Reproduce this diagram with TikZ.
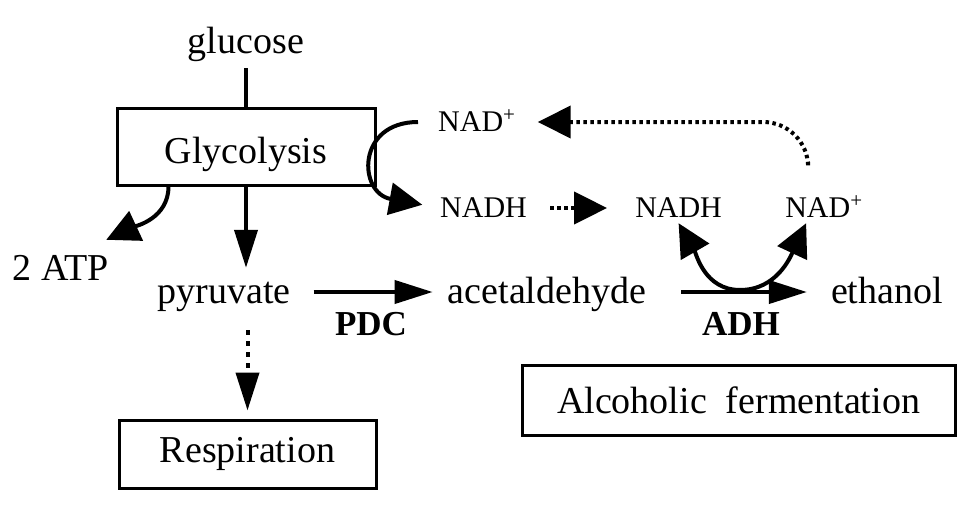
\documentclass[tikz,border=0pt]{standalone}
\usepackage{fontspec}
\setmainfont{Liberation Serif}
\usetikzlibrary{positioning, arrows.meta}
\tikzset{
  metab/.style = {
    inner sep=0pt,
    text height=28pt,
    text depth=6pt,
    font=\fontsize{38}{44}\selectfont
  },
  cofac/.style = {
    inner sep=0pt,
    text height=24pt,
    text depth=6pt,
    font=\fontsize{30}{36}\selectfont
  },
  enzyme/.style = {
    inner sep=0pt,
    font=\fontsize{35}{40}\selectfont\bfseries
  },
  pathway/.style = {
    draw,
    line width=3pt,
    inner sep=0pt,
    font=\fontsize{38}{44}\selectfont
  },
  arrow/.style = {
    -{Triangle[length=38pt, width=23pt]},
    line width=4pt
  },
  bigarrow/.style = {
    -{Triangle[length=33pt, width=32pt]},
    line width=4pt
  },
  dots/.style = {
    line width=4pt,
    dash pattern=on 3.5pt off 3.5pt
  },
}

\begin{document}
\begin{tikzpicture}[x=1pt, y=-1pt]
  \useasboundingbox (0,0) rectangle (977,506);
  % glycolysis
  \node[metab, anchor=base] (glc) at (246,53) {glucose};
  \node[pathway, minimum width=258pt, minimum height=77pt,
        text height=33pt, text depth=0pt] (gly) at (246,146.5) {Glycolysis};
  \node[metab, anchor=base] (atp) at (61,280) {2 ATP};
  \node[metab, anchor=base] (pyr) at (224,303) {pyruvate};
  \node[pathway, minimum width=257pt, minimum height=68pt] (resp) at (247.5,454) {Respiration};
  % fermentation
  \node[metab, anchor=base] (acald) at (547,303) {acetaldehyde};
  \node[metab, anchor=base] (etoh) at (887,303) {ethanol};
  \node[enzyme, anchor=base] (pdc) at (371,335) {PDC};
  \node[enzyme, anchor=base] (adh) at (741,335) {ADH};
  \node[pathway, minimum width=433pt, minimum height=70pt] (ferm) at (738.5,400) {Alcoholic~~fermentation};
  % NAD cycle
  \node[cofac, anchor=base west] (nadA) at (438,131) {NAD\textsuperscript{+}};
  \node[cofac, anchor=base west] (nadhA) at (440,217) {NADH};
  \node[cofac, right=108pt of nadhA] (nadhB) {NADH};
  \node[cofac, right=63pt of nadhB] (nadB) {NAD\textsuperscript{+}};
  \coordinate (adhmid) at (740,290);

  \draw[line width=4pt, shorten <=9pt] (glc) -- (gly);
  \draw[arrow, shorten >=7pt] (gly) -- (gly.south |- pyr.north);
  \draw[bigarrow] ([xshift=53pt]gly.south west) to[out=-90, in=25] ([xshift=-3pt, yshift=12pt]atp.north east);
  \draw[arrow, shorten <=23pt, shorten >=15pt] (pyr) -- (acald);
  \draw[arrow, shorten <=35pt, shorten >=24pt] (acald) -- (etoh);
  \draw[arrow, line width=4pt, dash pattern=on 5pt off 6pt, shorten <=21pt, shorten >=8pt]
    (resp.north |- pyr.south) -- (resp.north);
  \draw[bigarrow, shorten <=20pt, shorten >=18pt]
    (nadA.west) .. controls +(-82,0) and +(-82,-15) .. (nadhA.west);
  \draw[bigarrow, dots, shorten <=23pt, shorten >=28pt] (nadhA) -- (nadhB);
  \draw[bigarrow] (adhmid) to[out=180, in=-60] (nadhB.south);
  \draw[bigarrow] (adhmid) to[out=0, in=-115] ([xshift=21pt]nadB.south west);
  \draw[bigarrow, dots, rounded corners=45pt, shorten >=22pt]
    ([xshift=23pt, yshift=31pt]nadB.north west) |- (nadA.east);
\end{tikzpicture}
\end{document}
